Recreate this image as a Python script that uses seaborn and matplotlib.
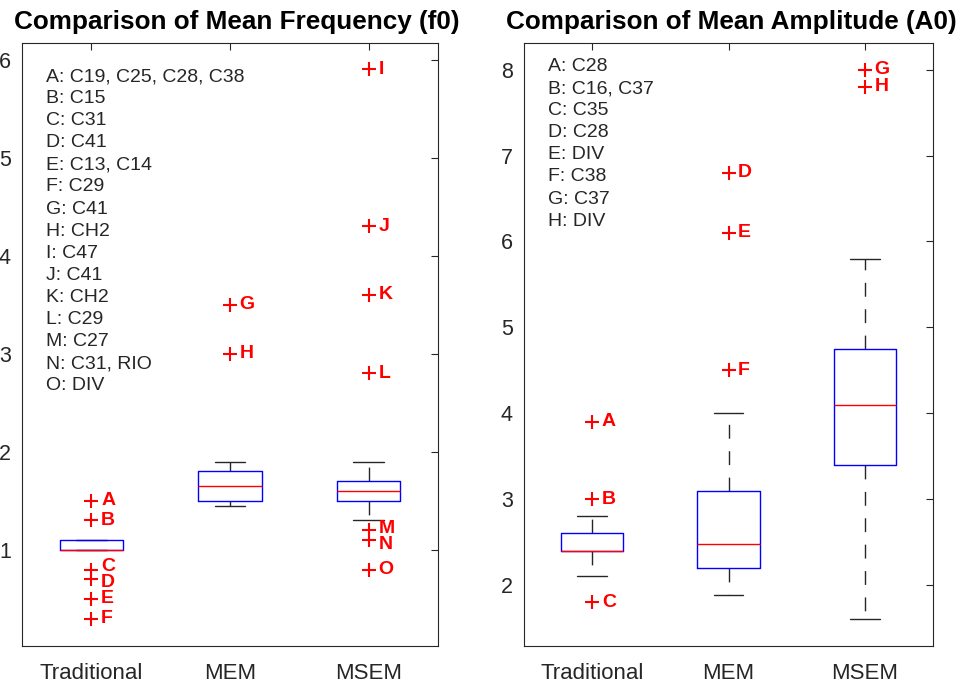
# import required modules
import matplotlib
matplotlib.use('Agg')
import matplotlib.pyplot as plt
import seaborn as sns
import pandas as pd

# categories
groups = ['Traditional', 'MEM', 'MSEM']

# box statistics for mean frequency (f0)
f0_q1 = [1.0, 1.5, 1.5]
f0_med = [1.0, 1.65, 1.6]
f0_q3 = [1.1, 1.8, 1.7]
f0_lo = [1.0, 1.45, 1.3]
f0_hi = [1.1, 1.9, 1.9]

# outliers for f0
f0_out_group = ['Traditional', 'Traditional', 'Traditional', 'Traditional', 'Traditional', 'Traditional',
                'MEM', 'MEM',
                'MSEM', 'MSEM', 'MSEM', 'MSEM', 'MSEM', 'MSEM', 'MSEM']
f0_out_value = [1.5, 1.3, 0.8, 0.7, 0.5, 0.3, 3.5, 3.0, 5.9, 4.3, 3.6, 2.8, 1.2, 1.1, 0.8]
f0_out_label = ['A', 'B', 'C', 'D', 'E', 'F', 'G', 'H', 'I', 'J', 'K', 'L', 'M', 'N', 'O']
f0_notes = ['A: C19, C25, C28, C38', 'B: C15', 'C: C31', 'D: C41', 'E: C13, C14',
            'F: C29', 'G: C41', 'H: CH2', 'I: C47', 'J: C41', 'K: CH2', 'L: C29',
            'M: C27', 'N: C31, RIO', 'O: DIV']

# box statistics for mean amplitude (A0)
a0_q1 = [2.4, 2.2, 3.4]
a0_med = [2.4, 2.48, 4.1]
a0_q3 = [2.6, 3.1, 4.75]
a0_lo = [2.1, 1.88, 1.6]
a0_hi = [2.8, 4.0, 5.8]

# outliers for A0
a0_out_group = ['Traditional', 'Traditional', 'Traditional', 'MEM', 'MEM', 'MEM', 'MSEM', 'MSEM']
a0_out_value = [3.9, 3.0, 1.8, 6.8, 6.1, 4.5, 8.0, 7.8]
a0_out_label = ['A', 'B', 'C', 'D', 'E', 'F', 'G', 'H']
a0_notes = ['A: C28', 'B: C16, C37', 'C: C35', 'D: C28', 'E: DIV', 'F: C38', 'G: C37', 'H: DIV']

# style
sns.set_style('white')
plt.rcParams['font.family'] = ['Liberation Sans', 'DejaVu Sans']
dark = '#262626'
plt.rcParams['axes.edgecolor'] = dark
plt.rcParams['axes.linewidth'] = 0.8

fig = plt.figure(figsize=(9.65, 6.85), dpi=100)
W, H = 965, 685
ax1 = fig.add_axes([22 / W, 39 / H, 416 / W, 603 / H])
ax2 = fig.add_axes([524 / W, 39 / H, 409 / W, 603 / H])

# small nudges (points) so close labels do not overlap
nudge = {('f0', 'C'): 2.5, ('f0', 'D'): -2.5, ('f0', 'M'): 1, ('f0', 'N'): -3}


def draw(ax, key, q1, med, q3, lo, hi, og, ov, ol, notes, title, title_x, ylim, yticks, first):
    stats = [dict(q1=q1[i], med=med[i], q3=q3[i], whislo=lo[i], whishi=hi[i], fliers=[])
             for i in range(len(groups))]
    pos = list(range(1, len(groups) + 1))
    ax.bxp(stats, positions=pos, widths=0.455, capwidths=0.22, showfliers=False,
           boxprops=dict(color='blue', linewidth=1.0, zorder=2.5),
           medianprops=dict(color='red', linewidth=1.0, zorder=2.6),
           whiskerprops=dict(color=dark, linewidth=1.0, linestyle=(0, (10, 9)), zorder=2),
           capprops=dict(color=dark, linewidth=1.0, zorder=2))

    # outliers
    df = pd.DataFrame({'group': og, 'value': ov, 'label': ol})
    df['pos'] = [groups.index(g) + 1 for g in df['group']]
    sns.scatterplot(data=df, x='pos', y='value', marker='+', color='red', s=100,
                    linewidth=1.5, ax=ax, legend=False, zorder=3)
    for _, r in df.iterrows():
        ax.annotate(r['label'], xy=(r['pos'], r['value']), xytext=(7, nudge.get((key, r['label']), 0)),
                    textcoords='offset points', va='center', ha='left',
                    color='red', fontsize=14, fontweight='bold')

    # note list
    for i, line in enumerate(notes):
        ax.annotate(line, xy=(0.058, 1), xycoords='axes fraction',
                    xytext=(0, -first - i * 15.9), textcoords='offset points',
                    va='baseline', ha='left', color=dark, fontsize=14)

    ax.set_xlim(0.5, 3.5)
    ax.set_ylim(*ylim)
    ax.set_xticks(pos)
    ax.set_xticklabels(groups)
    ax.set_yticks(yticks)
    ax.set_xlabel('')
    ax.set_ylabel('')
    ax.tick_params(direction='in', top=True, right=True, length=5, width=0.8, color=dark,
                   labelcolor=dark)
    ax.tick_params(axis='x', pad=12, labelsize=16)
    ax.tick_params(axis='y', pad=8, labelsize=15.5)
    ax.set_title(title, fontsize=18.8, fontweight='bold', pad=10, color='black', x=title_x)


draw(ax1, 'f0', f0_q1, f0_med, f0_q3, f0_lo, f0_hi, f0_out_group, f0_out_value, f0_out_label,
     f0_notes, 'Comparison of Mean Frequency (f0)', 0.517, (0.02, 6.17), [1, 2, 3, 4, 5, 6], 27.4)
draw(ax2, 'a0', a0_q1, a0_med, a0_q3, a0_lo, a0_hi, a0_out_group, a0_out_value, a0_out_label,
     a0_notes, 'Comparison of Mean Amplitude (A0)', 0.506, (1.29, 8.31), [2, 3, 4, 5, 6, 7, 8], 20.2)

fig.savefig('out.png', dpi=100)
